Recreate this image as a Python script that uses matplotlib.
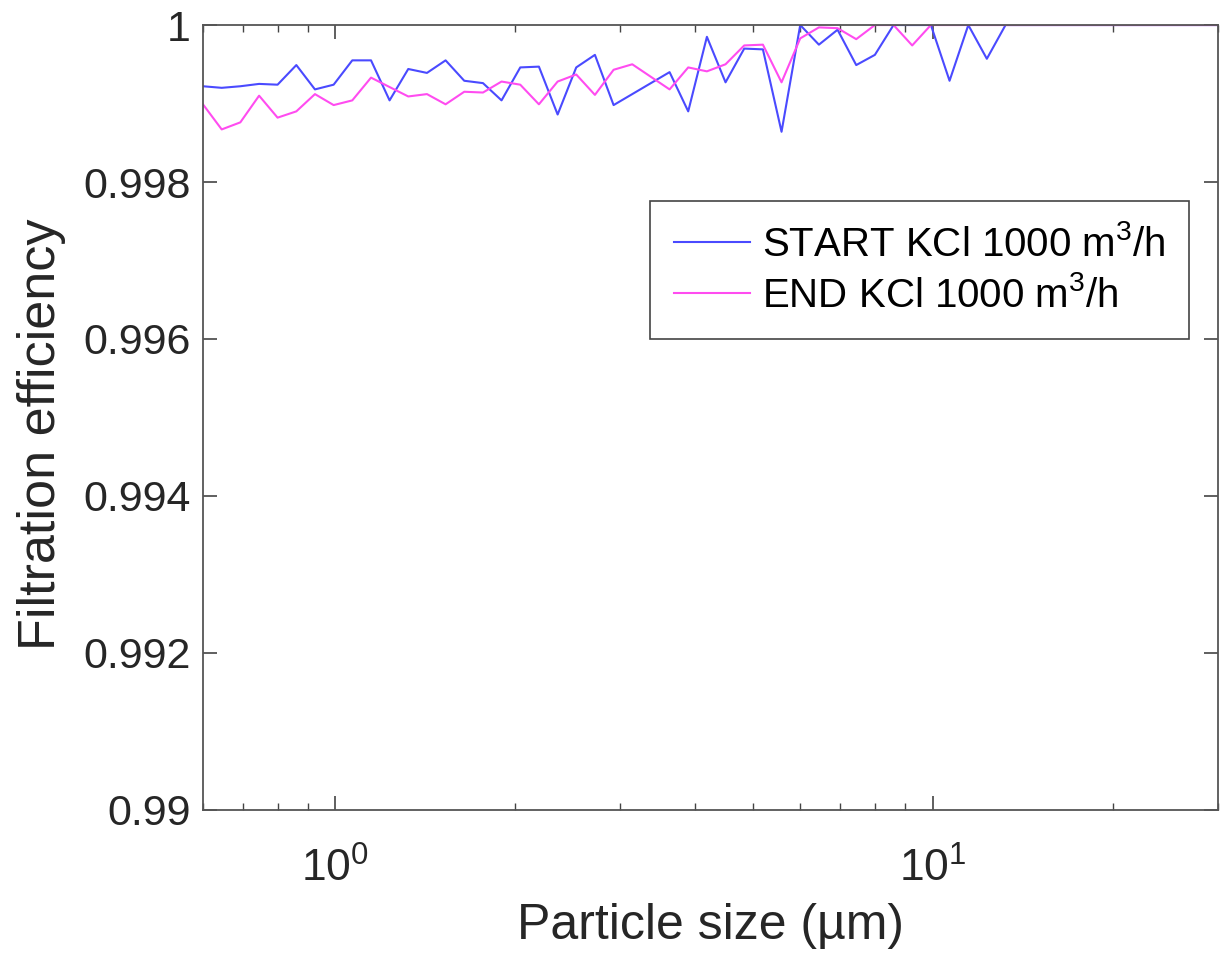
import matplotlib
matplotlib.use('Agg')
import matplotlib.pyplot as plt
from matplotlib.ticker import FuncFormatter, LogLocator, NullFormatter

plt.rcParams['font.family'] = ['Liberation Sans', 'DejaVu Sans']
plt.rcParams['mathtext.fontset'] = 'custom'
plt.rcParams['mathtext.rm'] = 'Liberation Sans'
plt.rcParams['mathtext.it'] = 'Liberation Sans:italic'

# particle size channels (um)
sizes = [0.600, 0.645, 0.693, 0.745, 0.800, 0.860, 0.924, 0.993, 1.067, 1.147,
         1.232, 1.324, 1.423, 1.529, 1.643, 1.766, 1.897, 2.039, 2.191, 2.355,
         2.530, 2.719, 2.922, 3.140, 3.374, 3.626, 3.896, 4.187, 4.499, 4.835,
         5.196, 5.583, 6.000, 6.448, 6.929, 7.446, 8.001, 8.598, 9.239, 9.929,
         10.67, 11.47, 12.32, 13.24, 14.23, 15.29, 16.43, 17.66, 18.97, 20.39,
         21.91, 23.54, 25.30, 27.19, 29.22, 31.40]

eff_start = [0.99922, 0.99920, 0.99922, 0.99925, 0.99924, 0.99949, 0.99918, 0.99924, 0.99955, 0.99955,
             0.99904, 0.99944, 0.99939, 0.99955, 0.99929, 0.99926, 0.99904, 0.99946, 0.99947, 0.99886,
             0.99946, 0.99962, 0.99898, 0.99912, 0.99926, 0.99940, 0.99890, 0.99985, 0.99927, 0.99970,
             0.99969, 0.99864, 1.00000, 0.99975, 0.99994, 0.99949, 0.99962, 1.00000, 1.00000, 1.00000,
             0.99929, 1.00000, 0.99957, 1.00000, 1.00000, 1.00000, 1.00000, 1.00000, 1.00000, 1.00000,
             1.00000, 1.00000, 1.00000, 1.00000, 1.00000, 1.00000]

eff_end = [0.99899, 0.99867, 0.99876, 0.99910, 0.99882, 0.99890, 0.99912, 0.99898, 0.99904, 0.99933,
           0.99921, 0.99909, 0.99912, 0.99899, 0.99915, 0.99914, 0.99928, 0.99924, 0.99899, 0.99928,
           0.99937, 0.99911, 0.99943, 0.99950, 0.99934, 0.99918, 0.99946, 0.99941, 0.99950, 0.99974,
           0.99975, 0.99927, 0.99983, 0.99997, 0.99996, 0.99982, 1.00000, 1.00000, 0.99974, 1.00000,
           1.00000, 1.00000, 1.00000, 1.00000, 1.00000, 1.00000, 1.00000, 1.00000, 1.00000, 1.00000,
           1.00000, 1.00000, 1.00000, 1.00000, 1.00000, 1.00000]

labels = ['START KCl 1000 m$^3$/h', 'END KCl 1000 m$^3$/h']
yticks = [0.99, 0.992, 0.994, 0.996, 0.998, 1.0]

fig = plt.figure(figsize=(12.3, 9.63), dpi=100)
ax = fig.add_axes([0.165, 0.159, 0.825, 0.815])

ax.plot(sizes, eff_start, color='#4a4aff', lw=1.5, label=labels[0])
ax.plot(sizes, eff_end, color='#ff4cf0', lw=1.5, label=labels[1])

ax.set_xscale('log')
ax.set_xlim(0.6, 30)
ax.set_ylim(0.99, 1.0)
ax.set_yticks(yticks)
ax.yaxis.set_major_formatter(FuncFormatter(lambda v, p: '%g' % v))
ax.xaxis.set_minor_locator(LogLocator(base=10, subs=range(2, 10)))
ax.xaxis.set_minor_formatter(NullFormatter())

ax.tick_params(which='both', direction='in', top=True, right=True, colors='#444444',
               labelcolor='#262626')
ax.tick_params(which='major', length=10, width=1.2)
ax.tick_params(which='minor', length=5, width=1.0)
ax.tick_params(axis='y', pad=9, labelsize=31)
ax.tick_params(axis='x', pad=27, labelsize=32)
for s in ax.spines.values():
    s.set_color('#555555')
    s.set_linewidth(1.3)

ax.set_xlabel('Particle size (µm)', fontsize=36, color='#262626')
ax.set_ylabel('Filtration efficiency', fontsize=37.5, color='#262626')
ax.xaxis.set_label_coords(0.5, -0.1185)
ax.yaxis.set_label_coords(-0.135, 0.479)

leg = ax.legend(loc='upper right', bbox_to_anchor=(0.972, 0.776), borderaxespad=0,
                fontsize=29, fancybox=False, framealpha=1, edgecolor='#444444',
                handlelength=1.9, handletextpad=0.28, borderpad=0.6, labelspacing=0.3)
leg.get_frame().set_linewidth(1.2)

fig.savefig('out.png', dpi=100)
